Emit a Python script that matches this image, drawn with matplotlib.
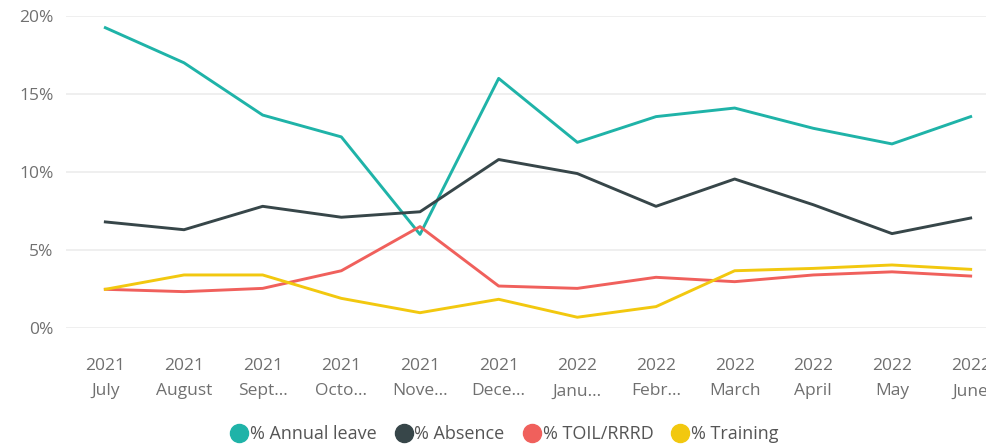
import matplotlib
matplotlib.use('Agg')
import matplotlib.pyplot as plt
from matplotlib.lines import Line2D

# monthly values, % of hours
years = ['2021', '2021', '2021', '2021', '2021', '2021',
         '2022', '2022', '2022', '2022', '2022', '2022']
months = ['July', 'August', 'Sept...', 'Octo...', 'Nove...', 'Dece...',
          'Janu...', 'Febr...', 'March', 'April', 'May', 'June']

annual_leave = [19.25, 17.0, 13.65, 12.25, 6.0, 16.0, 11.9, 13.55, 14.1, 12.8, 11.8, 13.55]
absence = [6.8, 6.3, 7.8, 7.1, 7.45, 10.8, 9.9, 7.8, 9.55, 7.9, 6.05, 7.05]
toil = [2.48, 2.33, 2.54, 3.67, 6.5, 2.69, 2.54, 3.25, 2.97, 3.4, 3.6, 3.33]
training = [2.48, 3.4, 3.4, 1.9, 0.98, 1.84, 0.69, 1.37, 3.67, 3.82, 4.04, 3.76]

series = [
    ('% Annual leave', annual_leave, '#1fb3a8'),
    ('% Absence', absence, '#374649'),
    ('% TOIL/RRRD', toil, '#f0605c'),
    ('% Training', training, '#f2c80f'),
]

plt.rcParams['font.family'] = ['Open Sans', 'DejaVu Sans']

fig = plt.figure(figsize=(9.87, 4.47), dpi=100)
ax = fig.add_axes([66 / 987, 1 - 328 / 447, 944 / 987, 312 / 447])

x = range(len(months))
for name, vals, color in series:
    ax.plot(x, vals, color=color, lw=2.1, solid_joinstyle='round', clip_on=False)

ax.set_xlim(-0.5, len(months) - 0.5)
ax.set_ylim(0, 20)
ax.set_yticks([0, 5, 10, 15, 20])
ax.set_yticklabels(['0%', '5%', '10%', '15%', '20%'])
ax.set_xticks(list(x))
ax.set_xticklabels([f'{y}\n{m}' for y, m in zip(years, months)], linespacing=1.8)

for s in ax.spines.values():
    s.set_visible(False)
ax.grid(axis='y', color='#ececec', lw=1.2)
ax.set_axisbelow(True)
ax.tick_params(axis='x', length=0, pad=21.5, labelsize=12.5, colors='#707070')
ax.tick_params(axis='y', length=0, pad=9, labelsize=12.5, colors='#707070')

handles = [Line2D([], [], ls='none', marker='o', ms=13, color=c, label=n)
           for n, _, c in series]
fig.legend(handles=handles, loc='center', bbox_to_anchor=(0.51, 1 - 434 / 447),
           ncol=4, frameon=False, fontsize=13, handletextpad=0.0,
           columnspacing=0.9, handlelength=1.2, labelcolor='#555555',
           borderaxespad=0)

fig.savefig('out.png', dpi=100)
